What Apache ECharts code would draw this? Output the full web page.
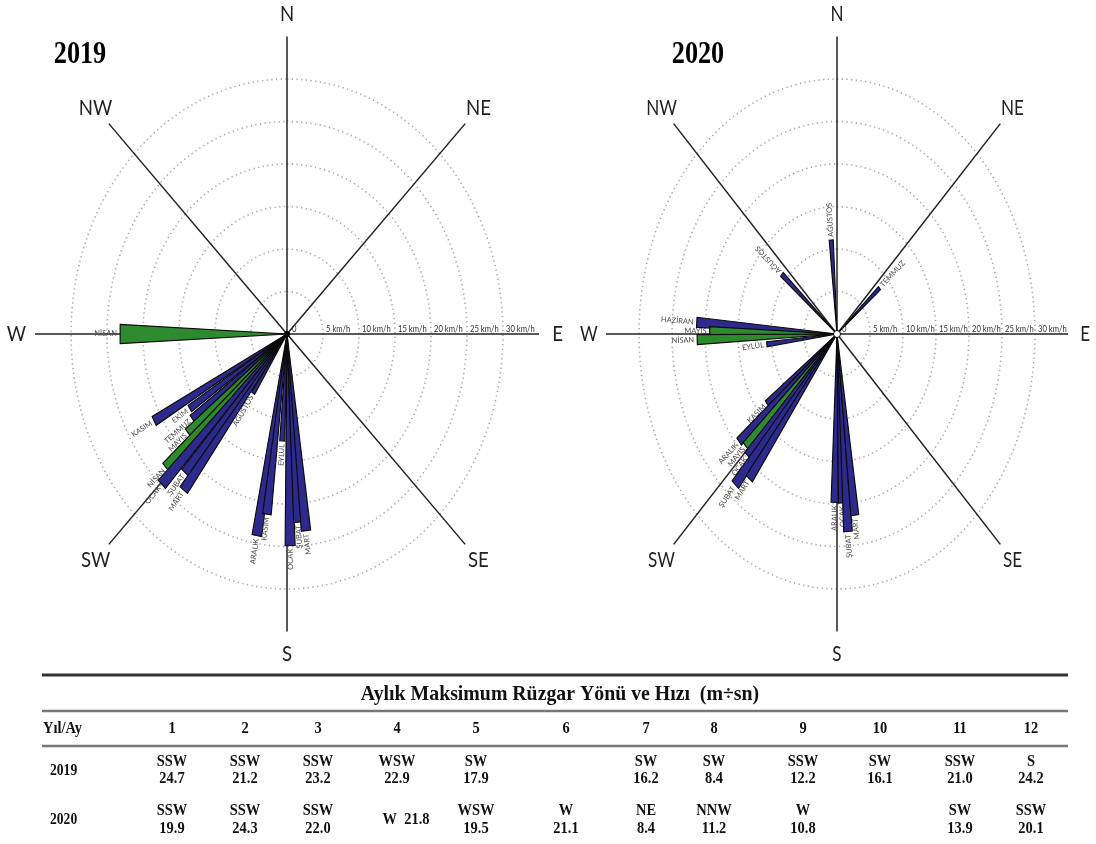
<!DOCTYPE html>
<html><head><meta charset="utf-8">
<script src="https://cdn.jsdelivr.net/npm/echarts@6/dist/echarts.min.js"></script>
<style>html,body{margin:0;padding:0;background:#fff}#c{width:1096px;height:844px}</style>
</head><body><div id="c"></div>
<script>
// ---------- data ----------
const compassLabels = ['N','NE','E','SE','S','SW','W','NW'];
const compassBearings = [0,45,90,135,180,225,270,315];
const ringValues = [5,10,15,20,25,30];
const tickValues = [0,5,10,15,20,25,30];
const tickLabels = ['0','5 km/h','10 km/h','15 km/h','20 km/h','25 km/h','30 km/h'];
const yearTitles = ['2019','2020'];

const bars2019Months   = ['NİSAN','KASIM','EKİM','TEMMUZ','MAYIS','NİSAN','OCAK','ŞUBAT','MART','AĞUSTOS','ARALIK','KASIM','EYLÜL','OCAK','ŞUBAT','MART'];
const bars2019Bearings = [270,241,237,233,230,227,224.5,221,218,214,190,187.5,183,179,176,173.5];
const bars2019Speeds   = [23.2,21.1,16.1,16.5,18.0,23.0,24.8,21.6,23.3,8.4,24.1,21.4,12.6,24.9,22.2,23.3];
const bars2019Groups   = ['g','b','b','b','g','g','b','b','b','b','b','b','b','b','b','b'];

const bars2020Months   = ['AĞUSTOS','AĞUSTOS','TEMMUZ','HAZİRAN','MAYIS','NİSAN','EYLÜL','KASIM','ARALIK','MAYIS','OCAK','ŞUBAT','MART','ARALIK','OCAK','ŞUBAT','MART'];
const bars2020Bearings = [355.5,310,50,273.7,271,268.2,263.5,232.5,229.5,226.5,223.5,221,218,181,177.8,175.9,172.8];
const bars2020Speeds   = [11.1,10.9,8.4,21.3,19.3,21.2,10.7,13.4,19.5,19.1,19.7,23.5,21.6,19.8,19.9,23.3,21.5];
const bars2020Groups   = ['b','b','b','b','g','g','b','b','b','g','b','b','b','b','b','b','b'];

const tableTitle = 'Aylık Maksimum Rüzgar Yönü ve Hızı  (m÷sn)';
const tableCorner = 'Yıl/Ay';
const tableMonths = ['1','2','3','4','5','6','7','8','9','10','11','12'];
const tableYears = ['2019','2020'];
const dirs2019   = ['SSW','SSW','SSW','WSW','SW','','SW','SW','SSW','SW','SSW','S'];
const speeds2019 = ['24.7','21.2','23.2','22.9','17.9','','16.2','8.4','12.2','16.1','21.0','24.2'];
const dirs2020   = ['SSW','SSW','SSW','W','WSW','W','NE','NNW','W','','SW','SSW'];
const speeds2020 = ['19.9','24.3','22.0','21.8','19.5','21.1','8.4','11.2','10.8','','13.9','20.1'];

// ---------- layout / style ----------
const roses = [
  {cx:287, cy:334, px:7.2, center:'dark'},
  {cx:837, cy:334, px:6.6, center:'white'}
];
const PY = 8.5, XR = 39, YR = 38.5;
const BLUE = '#2d2a8e', GREEN = '#2e8a2e';
const BAR_W = 3.2, WIDE_W = 5.6;
const colX = [172,245,318,397,476,566,646,714,803,880,960,1031];
const SERIF = '"Liberation Serif","Times New Roman",serif';
const SANS = 'Lato,"Open Sans",sans-serif';

function pt(api, r, b){ const a = b*Math.PI/180; return api.coord([r*Math.sin(a), r*Math.cos(a)]); }

const barSets = [
  {m:bars2019Months, b:bars2019Bearings, s:bars2019Speeds, g:bars2019Groups},
  {m:bars2020Months, b:bars2020Bearings, s:bars2020Speeds, g:bars2020Groups}
];

const series = [];
roses.forEach((R, i) => {
  const sx = R.px / PY;
  const common = {type:'custom', xAxisIndex:i, yAxisIndex:i, silent:true, animation:false};
  // rings
  series.push(Object.assign({}, common, {
    z:1, data: ringValues.map((v,k)=>[v,k]),
    renderItem:(p,api)=>{ const r=api.value(0); const pts=[];
      for(let a=0;a<=360;a+=2) pts.push(pt(api,r,a));
      return {type:'polyline', shape:{points:pts}, style:{stroke:'#a9a9a9', lineWidth:1.6, lineDash:[1.3,3.4], fill:null}}; }
  }));
  // compass lines + labels
  series.push(Object.assign({}, common, {
    z:2, data: compassBearings.map((b,k)=>[b,k]),
    renderItem:(p,api)=>{ const b=api.value(0), k=api.value(1);
      const c=pt(api,0,b), e=pt(api,35,b), l=pt(api,37.6,b);
      return {type:'group', children:[
        {type:'line', shape:{x1:c[0],y1:c[1],x2:e[0],y2:e[1]}, style:{stroke:'#222', lineWidth:1.5}},
        {type:'text', x:l[0], y:l[1], scaleX:sx, style:{text:compassLabels[k], fill:'#222', font:'22px '+SANS, align:'center', verticalAlign:'middle'}}
      ]}; }
  }));
  // radial tick labels
  series.push(Object.assign({}, common, {
    z:4, data: tickValues.map((v,k)=>[v,k]),
    renderItem:(p,api)=>{ const v=api.value(0), k=api.value(1); const q=api.coord([v,0]);
      return {type:'text', x:q[0]+(v===0?5:3), y:q[1]-0.5, scaleX:0.9,
        style:{text:tickLabels[k], fill:'#333', font:'8.5px '+SANS, align:'left', verticalAlign:'bottom'}}; }
  }));
  // bars
  const B = barSets[i];
  series.push(Object.assign({}, common, {
    z:3, data: B.b.map((b,k)=>[b, B.s[k], k]),
    renderItem:(p,api)=>{ const b=api.value(0), v=api.value(1), k=api.value(2);
      const w = (i===0 && b===270) ? WIDE_W : BAR_W;
      const c=pt(api,0,b), p1=pt(api,v,b-w/2), p2=pt(api,v,b+w/2), pe=pt(api,v,b);
      const dx=pe[0]-c[0], dy=c[1]-pe[1]; const len=Math.hypot(dx,dy);
      let phi=Math.atan2(dy,dx); if(phi<0) phi+=2*Math.PI;
      let rot = phi % Math.PI; if (rot > 160*Math.PI/180) rot -= Math.PI;
      const align = Math.cos(rot-phi) > 0 ? 'left' : 'right';
      const gap=3; const lx=pe[0]+dx/len*gap, ly=pe[1]-dy/len*gap;
      return {type:'group', children:[
        {type:'polygon', shape:{points:[c,p1,p2]}, style:{fill: B.g[k]==='g'?GREEN:BLUE, stroke:'#0a0a0a', lineWidth:1.15}},
        {type:'text', x:lx, y:ly, rotation:rot, style:{text:B.m[k], fill:'#4a4a4a', font:'7.5px '+SANS, align:align, verticalAlign:'middle'}}
      ]}; }
  }));
  // centre marker
  series.push(Object.assign({}, common, {
    z:5, data:[[0,0]],
    renderItem:(p,api)=>{ const q=api.coord([0,0]);
      return R.center==='dark'
        ? {type:'circle', shape:{cx:q[0],cy:q[1],r:3}, style:{fill:'#000'}}
        : {type:'circle', shape:{cx:q[0],cy:q[1],r:3.5}, style:{fill:'#fff', stroke:'#000', lineWidth:1}}; }
  }));
});

// ---------- table (graphic) ----------
const G = [];
const TL = 42, TR = 1068;
const tf = (s)=>'bold '+s+'px '+SERIF;
G.push({type:'line', shape:{x1:TL,y1:675,x2:TR,y2:675}, style:{stroke:'#333', lineWidth:3}});
G.push({type:'line', shape:{x1:TL,y1:711,x2:TR,y2:711}, style:{stroke:'#777', lineWidth:2.5}});
G.push({type:'line', shape:{x1:TL,y1:746,x2:TR,y2:746}, style:{stroke:'#777', lineWidth:2.5}});
G.push({type:'text', x:560, y:694, scaleX:0.9, style:{text:tableTitle, font:tf(22), fill:'#111', align:'center', verticalAlign:'middle'}});
G.push({type:'text', x:43, y:729, scaleX:0.85, style:{text:tableCorner, font:tf(17), fill:'#111', align:'left', verticalAlign:'middle'}});
tableMonths.forEach((m,k)=>G.push({type:'text', x:colX[k], y:729, scaleX:0.85, style:{text:m, font:tf(17), fill:'#111', align:'center', verticalAlign:'middle'}}));
const rows = [
  {year:tableYears[0], d:dirs2019, s:speeds2019, y1:762, y2:779, ym:771},
  {year:tableYears[1], d:dirs2020, s:speeds2020, y1:811, y2:829, ym:820}
];
rows.forEach((r,ri)=>{
  G.push({type:'text', x:50, y:r.ym, scaleX:0.85, style:{text:r.year, font:tf(16), fill:'#111', align:'left', verticalAlign:'middle'}});
  r.d.forEach((d,k)=>{
    if (ri===1 && k===3) {
      G.push({type:'text', x:colX[k]+9, y:r.ym, scaleX:0.85, style:{text:d+'  '+r.s[k], font:tf(17), fill:'#111', align:'center', verticalAlign:'middle'}});
      return;
    }
    if (d) G.push({type:'text', x:colX[k], y:r.y1, scaleX:0.85, style:{text:d, font:tf(17), fill:'#111', align:'center', verticalAlign:'middle'}});
    if (r.s[k]) G.push({type:'text', x:colX[k], y:r.y2, scaleX:0.85, style:{text:r.s[k], font:tf(17), fill:'#111', align:'center', verticalAlign:'middle'}});
  });
});
// year titles
G.push({type:'text', x:80, y:55, scaleX:0.82, style:{text:yearTitles[0], font:tf(32), fill:'#000', align:'center', verticalAlign:'middle'}});
G.push({type:'text', x:698, y:55, scaleX:0.82, style:{text:yearTitles[1], font:tf(32), fill:'#000', align:'center', verticalAlign:'middle'}});

const chart = echarts.init(document.getElementById('c'), null, {renderer:'canvas'});
chart.setOption({
  animation:false,
  backgroundColor:'#fff',
  grid: roses.map(R=>({left:R.cx-XR*R.px, top:R.cy-YR*PY, width:2*XR*R.px, height:2*YR*PY})),
  xAxis: roses.map((R,i)=>({gridIndex:i, type:'value', min:-XR, max:XR, show:false})),
  yAxis: roses.map((R,i)=>({gridIndex:i, type:'value', min:-YR, max:YR, show:false})),
  series: series,
  graphic: G
});
</script></body></html>
